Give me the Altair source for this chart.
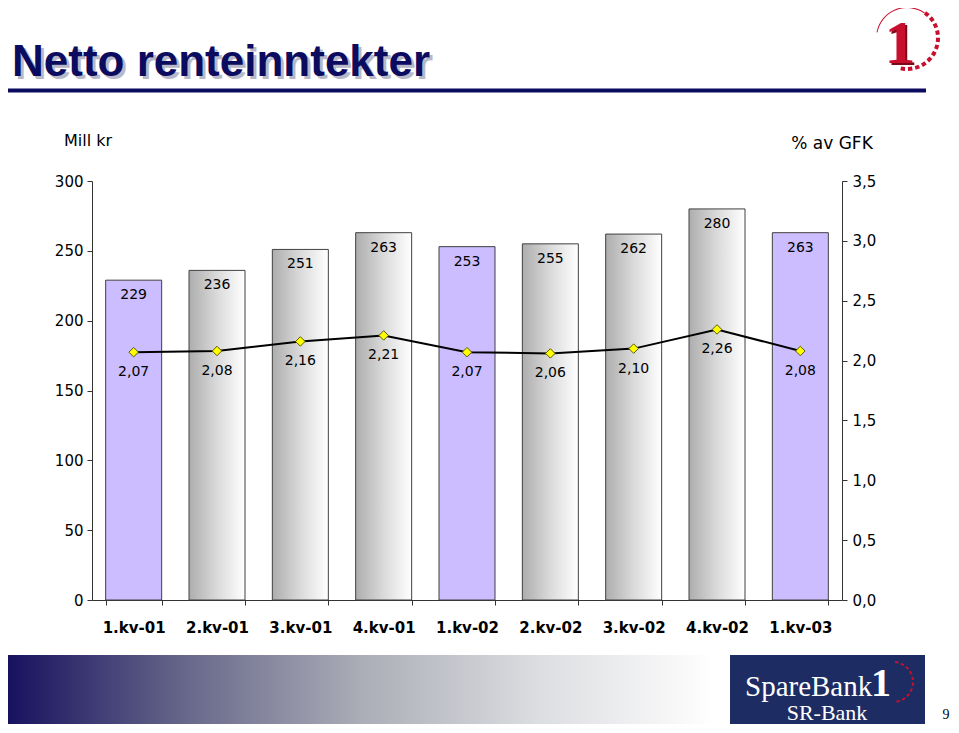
import altair as alt
import pandas as pd

# ---------------- data ----------------
quarters = ["1.kv-01", "2.kv-01", "3.kv-01", "4.kv-01", "1.kv-02",
            "2.kv-02", "3.kv-02", "4.kv-02", "1.kv-03"]
mill_kr = [229, 236, 251, 263, 253, 255, 262, 280, 263]
pct_gfk = [2.07, 2.08, 2.16, 2.21, 2.07, 2.06, 2.10, 2.26, 2.08]
first_quarter = [True, False, False, False, True, False, False, False, True]
left_ticks = [0, 50, 100, 150, 200, 250, 300]
right_ticks = [0, 0.5, 1.0, 1.5, 2.0, 2.5, 3.0, 3.5]

title_text = "Netto renteinntekter"
left_title = "Mill kr"
right_title = "% av GFK"

df = pd.DataFrame({"q": quarters, "v": mill_kr, "p": pct_gfk, "first": first_quarter})

W, H = 750, 419
NAVY = "#0b0b5f"
RED = "#c8102e"
AXC = "#333333"

# ---------------- main chart ----------------
x_scale = alt.Scale(domain=quarters, paddingInner=0.328, paddingOuter=0.164)
x_axis = alt.Axis(title=None, labelAngle=0, tickBand="extent", labelFont="DejaVu Sans",
                  labelFontWeight="bold", labelFontSize=15, labelColor="black",
                  labelPadding=15, tickSize=5, tickColor=AXC, domainColor=AXC, grid=False)
X = alt.X("q:N", scale=x_scale, axis=x_axis, sort=None)

Yl = alt.Y("v:Q", scale=alt.Scale(domain=[0, 300], nice=False, zero=True),
           axis=alt.Axis(values=left_ticks, title=None, grid=False, orient="left",
                         labelFont="DejaVu Sans", labelFontSize=15, labelColor="black",
                         labelPadding=4, tickSize=5, tickColor=AXC, domainColor=AXC))
Yr = alt.Y("p:Q", scale=alt.Scale(domain=[0, 3.5], nice=False, zero=True),
           axis=alt.Axis(values=right_ticks, title=None, grid=False, orient="right",
                         labelExpr="replace(format(datum.value,'.1f'),'.',',')",
                         labelFont="DejaVu Sans", labelFontSize=15, labelColor="black",
                         labelPadding=5, tickSize=5, tickColor=AXC, domainColor=AXC))

grad_gray = alt.Gradient(
    gradient="linear", x1=0, x2=1, y1=0, y2=0,
    stops=[alt.GradientStop(color="#adadad", offset=0),
           alt.GradientStop(color="#dadada", offset=0.5),
           alt.GradientStop(color="#ffffff", offset=1)])

base = alt.Chart(df)
bars_lav = base.transform_filter("datum.first").mark_bar(
    fill="#cbbdff", stroke="#404040", strokeWidth=1).encode(x=X, y=Yl)
bars_gray = base.transform_filter("!datum.first").mark_bar(
    fill=grad_gray, stroke="#404040", strokeWidth=1).encode(x=X, y=Yl)
bar_text = base.mark_text(baseline="middle", dy=15, font="DejaVu Sans", fontSize=14,
                          color="black").encode(x=X, y=Yl, text="v:Q")
left = alt.layer(bars_lav, bars_gray, bar_text)

line = base.mark_line(color="black", strokeWidth=2).encode(x=X, y=Yr)
pts = base.mark_point(shape="diamond", size=90, filled=True, fill="#ffff00",
                      stroke="#5a5a00", strokeWidth=1, opacity=1).encode(x=X, y=Yr)
line_text = base.transform_calculate(
    lbl="replace(format(datum.p,'.2f'),'.',',')").mark_text(
    baseline="middle", dy=20, font="DejaVu Sans", fontSize=14, color="black").encode(
    x=X, y=Yr, text="lbl:N")
right = alt.layer(line, pts, line_text)

main = alt.layer(left, right).resolve_scale(y="independent")

# ---------------- slide decorations ----------------
one = pd.DataFrame({"k": [0]})


def txt(text, x, y, **kw):
    return alt.Chart(one).mark_text(text=text, **kw).encode(x=alt.value(x), y=alt.value(y))


title_shadow = txt(title_text, -77, -102, align="left", baseline="alphabetic",
                   font="Liberation Sans", fontWeight="bold", fontSize=44, color="#b8b8c8")
title = txt(title_text, -80, -105, align="left", baseline="alphabetic",
            font="Liberation Sans", fontWeight="bold", fontSize=44, color=NAVY)
title_rule = alt.Chart(one).mark_rule(color=NAVY, strokeWidth=4).encode(
    x=alt.value(-84), x2=alt.value(834), y=alt.value(-90.5))

ltitle = txt(left_title, -4, -40, align="center", baseline="middle",
             font="DejaVu Sans", fontSize=16, color="black")
rtitle = txt(right_title, 740, -37, align="center", baseline="middle",
             font="DejaVu Sans", fontSize=17, color="black")

# top-right "1" logo
logo1_shadow = txt("1", 810, -116, align="center", baseline="alphabetic",
                   font="Liberation Serif", fontWeight="bold", fontSize=62, color="#7a0a18")
logo1 = txt("1", 808, -118, align="center", baseline="alphabetic",
            font="Liberation Serif", fontWeight="bold", fontSize=62, color=RED)
logo_arc = alt.Chart(one).mark_arc(radius=31, radius2=30, theta=4.9, theta2=6.9,
                                   fill=RED).encode(x=alt.value(815), y=alt.value(-143))
logo_dash = alt.Chart(alt.sequence(0, 12, as_="i")).transform_calculate(
    t="0.62 + datum.i*0.235", t2="datum.t + 0.14").mark_arc(
    radius=33, radius2=29, fill=RED).encode(
    x=alt.value(815), y=alt.value(-143),
    theta=alt.Theta("t:Q", scale=None), theta2="t2:Q")

# bottom gradient band
grad_band = alt.Gradient(
    gradient="linear", x1=0, x2=1, y1=0, y2=0,
    stops=[alt.GradientStop(color="#17125f", offset=0),
           alt.GradientStop(color="#67678a", offset=0.25),
           alt.GradientStop(color="#abadb7", offset=0.5),
           alt.GradientStop(color="#dcdde0", offset=0.75),
           alt.GradientStop(color="#ffffff", offset=1)])
band = alt.Chart(one).mark_rect(fill=grad_band).encode(
    x=alt.value(-84), x2=alt.value(623), y=alt.value(474), y2=alt.value(546))

# SpareBank 1 SR-Bank logo
box = alt.Chart(one).mark_rect(fill="#1d2d64").encode(
    x=alt.value(638), x2=alt.value(833), y=alt.value(474), y2=alt.value(549))
sb_text = txt("SpareBank", 653, 515, align="left", baseline="alphabetic",
              font="Liberation Serif", fontSize=29, color="white")
sb_one = txt("1", 789, 515, align="center", baseline="alphabetic",
             font="Liberation Serif", fontWeight="bold", fontSize=40, color="white")
sb_dash = alt.Chart(alt.sequence(0, 10, as_="i")).transform_calculate(
    t="0.1 + datum.i*0.3", t2="datum.t + 0.17").mark_arc(
    radius=21, radius2=19, fill=RED).encode(
    x=alt.value(801), y=alt.value(501),
    theta=alt.Theta("t:Q", scale=None), theta2="t2:Q")
sr_text = txt("SR-Bank", 735, 539, align="center", baseline="alphabetic",
              font="Liberation Serif", fontSize=22, color="white")
page_no = txt("9", 854, 538, align="center", baseline="alphabetic",
              font="Liberation Serif", fontSize=14, color="black")

chart = alt.layer(
    band, box, sb_dash, sb_text, sb_one, sr_text, page_no,
    title_shadow, title, title_rule, logo_arc, logo_dash, logo1_shadow, logo1,
    ltitle, rtitle, main,
).properties(
    width=W, height=H,
    autosize=alt.AutoSizeParams(type="none"),
    padding={"left": 84, "top": 173, "right": 109, "bottom": 124},
    background="white",
).configure_view(stroke=None)

chart.save("out.html", embed_options={"renderer": "svg", "actions": False})
